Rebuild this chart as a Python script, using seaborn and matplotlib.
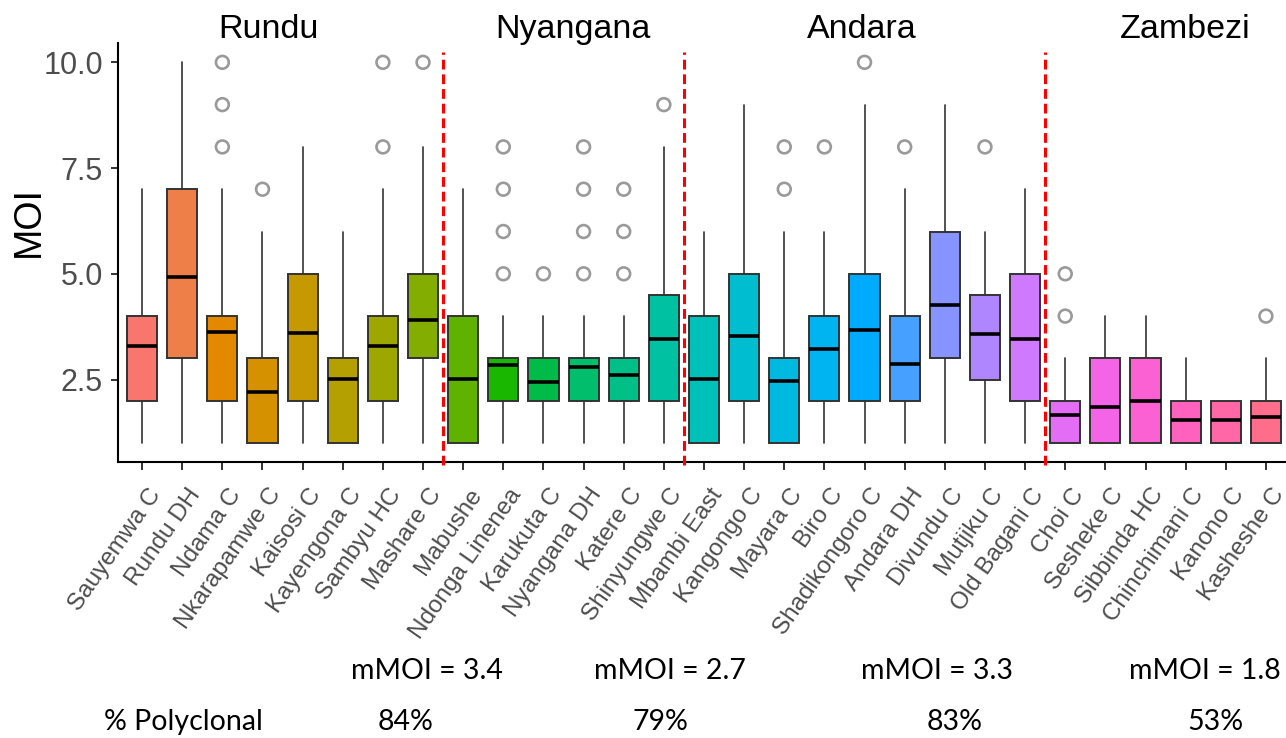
import numpy as np
import pandas as pd
import matplotlib
matplotlib.use("Agg")
import matplotlib.pyplot as plt
import seaborn as sns
from matplotlib.transforms import ScaledTranslation, blended_transform_factory

# --- data ---------------------------------------------------------------
regions = ["Rundu", "Nyangana", "Andara", "Zambezi"]
region_sizes = [8, 6, 9, 6]
sites = ["Sauyemwa C", "Rundu DH", "Ndama C", "Nkarapamwe C", "Kaisosi C",
         "Kayengona C", "Sambyu HC", "Mashare C",
         "Mabushe", "Ndonga Linenea", "Karukuta C", "Nyangana DH", "Katere C",
         "Shinyungwe C",
         "Mbambi East", "Kangongo C", "Mayara C", "Biro C", "Shadikongoro C",
         "Andara DH", "Divundu C", "Mutjiku C", "Old Bagani C",
         "Choi C", "Sesheke C", "Sibbinda HC", "Chinchimani C", "Kanono C",
         "Kasheshe C"]
q1 = [2, 3, 2, 1, 2, 1, 2, 3,
      1, 2, 2, 2, 2, 2,
      1, 2, 1, 2, 2, 2, 3, 2.5, 2,
      1, 1, 1, 1, 1, 1]
median = [3.3, 4.93, 3.63, 2.2, 3.6, 2.51, 3.3, 3.91,
          2.52, 2.85, 2.44, 2.79, 2.61, 3.46,
          2.52, 3.54, 2.47, 3.23, 3.67, 2.87, 4.27, 3.58, 3.45,
          1.66, 1.85, 2.0, 1.54, 1.54, 1.62]
q3 = [4, 7, 4, 3, 5, 3, 4, 5,
      4, 3, 3, 3, 3, 4.5,
      4, 5, 3, 4, 5, 4, 6, 4.5, 5,
      2, 3, 3, 2, 2, 2]
whisker_low = [1] * 29
whisker_high = [7, 10, 7, 6, 8, 6, 7, 8,
                7, 4, 4, 4, 4, 8,
                6, 9, 6, 6, 9, 7, 9, 6, 7,
                3, 4, 4, 3, 2, 3]
outliers = [[], [], [8, 9, 10], [7], [], [], [8, 10], [10],
            [], [5, 6, 7, 8], [5], [5, 6, 7, 8], [5, 6, 7], [9],
            [], [], [7, 8], [8], [10], [8], [], [8], [],
            [4, 5], [], [], [], [], [4]]
mmoi = ["3.4", "2.7", "3.3", "1.8"]
polyclonal = ["84%", "79%", "83%", "53%"]


def hue_pal(n, h0=15, c=100, l=65):
    # ggplot2 default discrete palette (HCL hues)
    hues = np.linspace(h0, h0 + 360, n + 1)[:n]
    wy, wu, wv = 100.0, 0.1978398, 0.4683363
    out = []
    for h in hues:
        U = c * np.cos(np.radians(h))
        V = c * np.sin(np.radians(h))
        Y = wy * ((l + 16) / 116) ** 3
        u = U / (13 * l) + wu
        v = V / (13 * l) + wv
        X = 9.0 * Y * u / (4 * v)
        Z = -X / 3 - 5 * Y + 3 * Y / v
        lin = [(3.240479 * X - 1.537150 * Y - 0.498535 * Z) / wy,
               (-0.969256 * X + 1.875992 * Y + 0.041556 * Z) / wy,
               (0.055648 * X - 0.204043 * Y + 1.057311 * Z) / wy]
        rgb = [1.055 * t ** (1 / 2.4) - 0.055 if t > 0.00304 else 12.92 * t
               for t in lin]
        out.append(tuple(min(max(t, 0), 1) for t in rgb))
    return out


sns.set_theme(style="ticks")
plt.rcParams["font.family"] = ["Liberation Sans", "DejaVu Sans"]

W, H = 1286, 738
fig = plt.figure(figsize=(W / 100, H / 100), dpi=100)
ax = fig.add_axes([118 / W, 1 - 462 / H, 1172 / W, (462 - 43.3) / H])

colors = hue_pal(len(sites))
pos = np.arange(len(sites))

stats = [dict(med=m, q1=a, q3=b, whislo=lo, whishi=hi, fliers=[])
         for m, a, b, lo, hi in zip(median, q1, q3, whisker_low, whisker_high)]
bp = ax.bxp(stats, positions=pos, widths=0.75, patch_artist=True,
            showfliers=False, showcaps=False,
            boxprops=dict(edgecolor="#333333", linewidth=1.4),
            medianprops=dict(color="black", linewidth=2.6, solid_capstyle="butt"),
            whiskerprops=dict(color="#333333", linewidth=1.2))
for patch, col in zip(bp["boxes"], colors):
    patch.set_facecolor(col)

flier_df = pd.DataFrame([(i, v) for i, vals in enumerate(outliers) for v in vals],
                        columns=["site", "MOI"])
sns.scatterplot(data=flier_df, x="site", y="MOI", ax=ax, marker="o", s=85,
                facecolors="none", edgecolor="#9a9a9a", linewidth=1.9,
                zorder=3, legend=False)

# dashed separators between regions
bounds = np.cumsum(region_sizes)[:-1] - 0.5
for b in bounds:
    ax.plot([b, b], [0.47, 10.25], color="red", lw=2.2,
            linestyle=(0, (3.2, 1.6)), clip_on=False, zorder=4)

ax.set_xlim(-0.6, len(sites) - 0.4)
ax.set_ylim(0.55, 10.45)
ax.set_yticks([2.5, 5.0, 7.5, 10.0])
ax.set_yticklabels(["2.5", "5.0", "7.5", "10.0"])
ax.set_xticks(pos)
ax.tick_params(axis="both", length=5.4, width=1.4, color="#333333",
               labelcolor="#4D4D4D")
ax.tick_params(axis="y", labelsize=22, pad=5.5)
ax.tick_params(axis="x", pad=2)
ax.set_xticklabels(sites, rotation=55, ha="right", va="top",
                   rotation_mode="anchor", fontsize=17.5)
for lab in ax.get_xticklabels():
    lab.set_transform(lab.get_transform() +
                      ScaledTranslation(0.05, -0.12, fig.dpi_scale_trans))
ax.set_xlabel("")
ax.set_ylabel("")
for s in ["left", "bottom"]:
    ax.spines[s].set_linewidth(1.5)
    ax.spines[s].set_color("black")
sns.despine(ax=ax)

fig.text(29 / W, 1 - 222 / H, "MOI", rotation=90, ha="center", va="center",
         fontsize=27, color="black")

trans = blended_transform_factory(ax.transData, fig.transFigure)
for name, xc in zip(regions, [3.14, 10.74, 17.93, 25.98]):
    fig.text(xc, 1 - 38 / H, name, transform=trans, ha="center",
             va="baseline", fontsize=24.5, color="black")

# summary rows under the plot
for txt, xc in zip(mmoi, [427, 670, 937, 1205]):
    fig.text(xc / W, 1 - 671 / H, f"mMOI = {txt}", ha="center", va="center",
             fontsize=20.5, family="Lato", color="black")
fig.text(183 / W, 1 - 722 / H, "% Polyclonal", ha="center", va="center",
         fontsize=20.5, family="Lato", color="black")
for txt, xc in zip(polyclonal, [406, 660, 955, 1215]):
    fig.text(xc / W, 1 - 722 / H, txt, ha="center", va="center",
             fontsize=20.5, family="Lato", color="black")

fig.savefig("out.png", dpi=100)
